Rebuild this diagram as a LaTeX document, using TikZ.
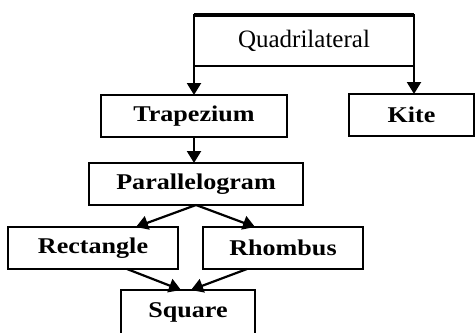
\documentclass[tikz,border=0pt]{standalone}
\usepackage{fontspec}
\setmainfont{Liberation Serif}
\newfontfamily\boxfont[FakeStretch=1.16]{Liberation Serif}
\usepackage{tikz}
\usetikzlibrary{arrows.meta,positioning,calc}

\begin{document}
\begin{tikzpicture}[
  x=1pt, y=-1pt,
  font=\boxfont\bfseries\fontsize{22.5}{26}\selectfont,
  box/.style={draw, line width=2.2pt, outer sep=0pt, inner sep=0pt,
    minimum height=42pt},
  arr/.style={-{Triangle[length=12pt,width=14pt]}, line width=2.2pt}
]
  \useasboundingbox (0,0) rectangle (476,332);
  \clip (0,0) rectangle (476,332);
  \node[box, minimum width=220pt, minimum height=51pt,
    font=\rmfamily\fontsize{25}{28}\selectfont] (quad) at (304,40.5) {Quadrilateral};
  \draw[line width=4pt] (quad.north west) -- (quad.north east);
  \node[box, minimum width=186pt, below=29pt of quad.south west] (trap) {Trapezium};
  \node[box, minimum width=125pt, below=28pt of quad.south east, xshift=-2.5pt] (kite) {Kite};
  \node[box, minimum width=214pt, below=26pt of trap, xshift=2pt] (para) {Parallelogram};
  \node[box, minimum width=170pt] (rect) at (93,248) {Rectangle};
  \node[box, minimum width=160pt, right=25pt of rect] (rhom) {Rhombus};
  \node[box, minimum width=134pt, minimum height=44pt,
    below=21pt of {$(rect.south)!.5!(rhom.south)$}] (sq) {Square};
  \draw[arr] (quad.south west) -- (quad.south west |- trap.north);
  \draw[arr] (quad.south east) -- (quad.south east |- kite.north);
  \draw[arr] (trap.south) -- (trap.south |- para.north);
  \draw[arr] (para.south) -- ([xshift=43pt]rect.north);
  \draw[arr] (para.south) -- ([xshift=-28pt]rhom.north);
  \draw[arr] ([xshift=34pt]rect.south) -- ([xshift=-7pt]sq.north);
  \draw[arr] ([xshift=-36pt]rhom.south) -- ([xshift=3pt]sq.north);
\end{tikzpicture}
\end{document}
